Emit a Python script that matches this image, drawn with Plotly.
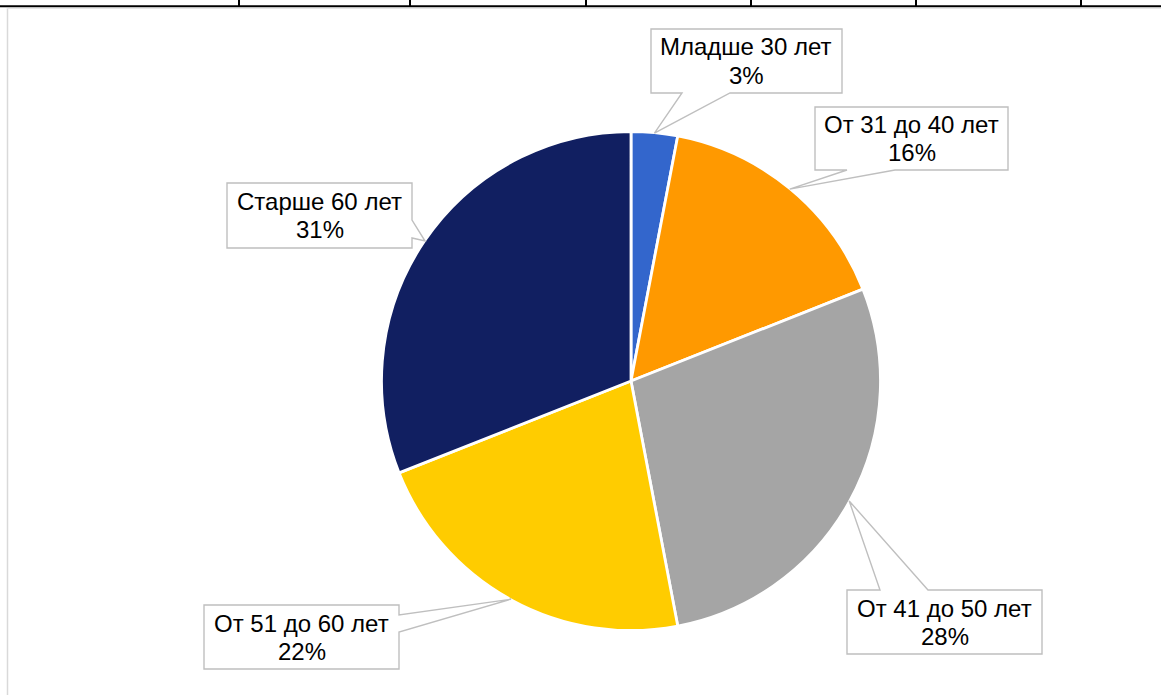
import math
import plotly.graph_objects as go

W, H = 1161, 695

categories = ["Младше 30 лет", "От 31 до 40 лет", "От 41 до 50 лет", "От 51 до 60 лет", "Старше 60 лет"]
values = [3, 16, 28, 22, 31]
colors = ["#3366cc", "#ff9900", "#a5a5a5", "#ffcc00", "#111f61"]

# layout (pixels): pie centre and radius
CX, CY, R = 631, 381, 248
# callout boxes: (x0, y0, x1, y1, edge, base_a, base_b)
boxes = [
    (651, 29, 842, 93, "bottom", 682, 730),
    (815, 107, 1008, 170, "bottom", 847, 895),
    (847, 590, 1042, 654, "top", 880, 928),
    (204, 605, 399, 669, "right", 615, 632),
    (227, 183, 412, 248, "right", 220, 238),
]

def px(x):
    return x / W

def py(y):
    return 1 - y / H

RD = R + 1.5  # domain half-size (plotly trims the outline width)

fig = go.Figure()
fig.add_trace(go.Pie(
    labels=categories, values=values, sort=False, direction="clockwise", rotation=0,
    marker=dict(colors=colors, line=dict(color="white", width=2.8)),
    textinfo="none", hoverinfo="label+percent", showlegend=False,
    domain=dict(x=[px(CX - RD), px(CX + RD)], y=[py(CY + RD), py(CY - RD)]),
))

total = sum(values)
shapes = []
annotations = []
cum = 0
for cat, v, b in zip(categories, values, boxes):
    mid = (cum + v / 2) / total * 2 * math.pi
    cum += v
    tx = CX + (R + 1) * math.sin(mid)
    ty = CY - (R + 1) * math.cos(mid)
    x0, y0, x1, y1, edge, ba, bb = b
    if edge == "bottom":
        pts = [(x0, y0), (x1, y0), (x1, y1), (bb, y1), (tx, ty), (ba, y1), (x0, y1)]
    elif edge == "top":
        pts = [(x0, y0), (ba, y0), (tx, ty), (bb, y0), (x1, y0), (x1, y1), (x0, y1)]
    elif edge == "right":
        pts = [(x0, y0), (x1, y0), (x1, ba), (tx, ty), (x1, bb), (x1, y1), (x0, y1)]
    else:
        pts = [(x0, y0), (x1, y0), (x1, y1), (x0, y1), (x0, bb), (tx, ty), (x0, ba)]
    path = "M " + " L ".join(f"{px(a):.5f},{py(c):.5f}" for a, c in pts) + " Z"
    shapes.append(dict(type="path", path=path, xref="paper", yref="paper",
                       fillcolor="white", line=dict(color="#bfbfbf", width=1.4), layer="above"))
    cx = (x0 + x1) / 2
    cy = (y0 + y1) / 2
    for txt, off in ((cat, -14), (f"{v}%", 14)):
        annotations.append(dict(x=px(cx), y=py(cy + off), xref="paper", yref="paper",
                                text=txt, showarrow=False, xanchor="center", yanchor="middle",
                                font=dict(family="Liberation Sans, Arial, sans-serif", size=24, color="black")))

# spreadsheet frame decorations
shapes.append(dict(type="line", xref="paper", yref="paper", x0=px(7.5), x1=px(7.5), y0=py(8), y1=py(H),
                   line=dict(color="#d9d9d9", width=1.5)))
shapes.append(dict(type="line", xref="paper", yref="paper", x0=px(7), x1=px(W), y0=py(8.5), y1=py(8.5),
                   line=dict(color="#e6e6e6", width=1.2)))
shapes.append(dict(type="line", xref="paper", yref="paper", x0=0, x1=1, y0=py(6.3), y1=py(6.3),
                   line=dict(color="black", width=2)))
for gx in [239, 410, 586, 751, 916, 1081]:
    shapes.append(dict(type="line", xref="paper", yref="paper", x0=px(gx), x1=px(gx), y0=py(0), y1=py(6.3),
                       line=dict(color="black", width=2)))

fig.update_layout(
    width=W, height=H, margin=dict(l=0, r=0, t=0, b=0),
    paper_bgcolor="white", plot_bgcolor="white",
    shapes=shapes, annotations=annotations,
)
fig.write_html("out.html", config={"displayModeBar": False},
               post_script="document.body.style.margin='0';document.body.style.overflow='hidden';")
